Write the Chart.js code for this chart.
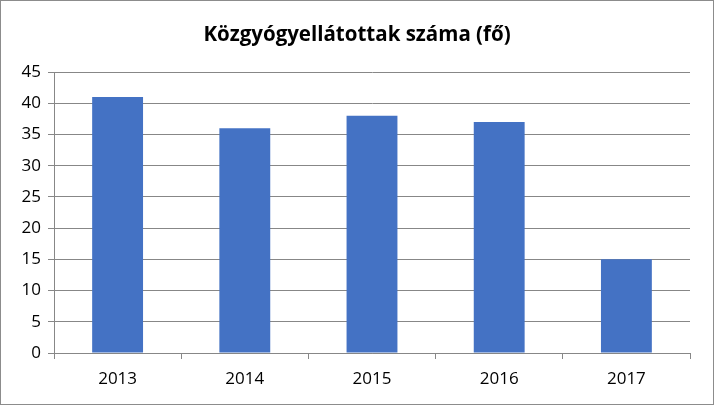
<!DOCTYPE html>
<html><head><meta charset="utf-8">
<script src="https://cdn.jsdelivr.net/npm/chart.js@4"></script>
<style>html,body{margin:0;padding:0;background:#fff}#w{width:714px;height:405px}</style>
</head><body><div id="w"><canvas id="c"></canvas></div>
<script>
const categories = ['2013','2014','2015','2016','2017'];
const values = [41, 36, 38, 37, 15];
const yTicks = [0,5,10,15,20,25,30,35,40,45];
const titleText = 'Közgyógyellátottak száma (fő)';

const decorPlugin = {
  id: 'decor',
  afterDraw(chart){
    const ctx = chart.ctx;
    ctx.save();
    ctx.strokeStyle = '#8c8c8c';
    ctx.lineWidth = 1;
    ctx.strokeRect(0.5,0.5,chart.width-1,chart.height-1);
    ctx.fillStyle = '#000';
    ctx.font = 'bold 20.5px "Open Sans"';
    ctx.textAlign = 'center';
    ctx.textBaseline = 'middle';
    ctx.fillText(titleText, chart.width/2, 35);
    ctx.restore();
  }
};

new Chart(document.getElementById('c'), {
  type: 'bar',
  data: { labels: categories, datasets: [{ data: values, backgroundColor: '#4472C4', categoryPercentage: 1, barPercentage: 0.4 }] },
  options: {
    responsive: true, maintainAspectRatio: false, animation: false,
    devicePixelRatio: 1,
    layout: { padding: { left: 0, right: 24, top: 72, bottom: 0 } },
    plugins: {
      legend: { display: false },
      tooltip: { enabled: false },
      title: { display: false }
    },
    scales: {
      x: {
        grid: { display: true, drawOnChartArea: false, offset: true, color: '#878787', tickLength: 6 },
        border: { display: true, color: '#878787' },
        ticks: { color: '#000', font: { family: 'Open Sans', size: 17 }, padding: 10 },
        afterFit(s){ s.height = 52; }
      },
      y: {
        min: 0, max: 45,
        grid: { color: '#878787', tickLength: 6 },
        border: { display: true, color: '#878787' },
        ticks: { stepSize: 5, color: '#000', font: { family: 'Open Sans', size: 17 }, padding: 7 },
        afterBuildTicks(s){ s.ticks = yTicks.map(v => ({ value: v })); },
        afterFit(s){ s.width = 54; }
      }
    }
  },
  plugins: [decorPlugin]
});
</script></body></html>
